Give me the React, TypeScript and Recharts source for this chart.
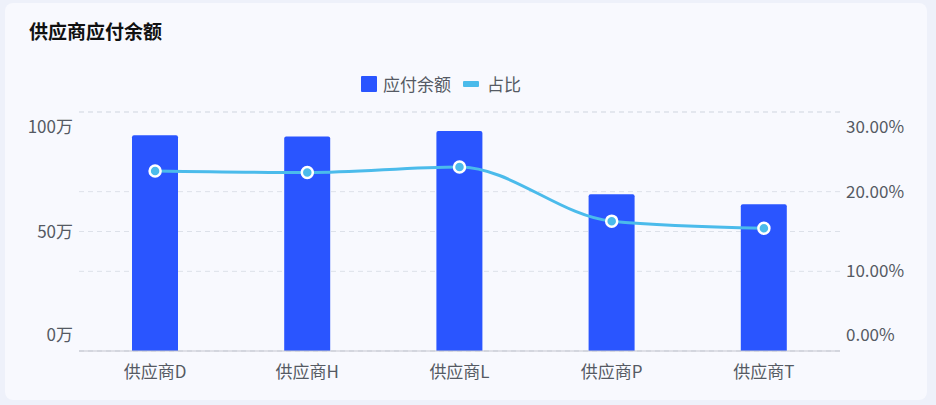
import { ComposedChart, Bar, Line, XAxis, YAxis, CartesianGrid } from 'recharts';

const categories = ['供应商D', '供应商H', '供应商L', '供应商P', '供应商T'];
// 应付余额, unit: 万
const payable = [90.3, 89.7, 92.1, 65.6, 61.4];
// 占比, unit: %
const share = [22.6, 22.4, 23.1, 16.3, 15.4];
const leftTicks = [0, 50, 100];
const rightTicks = [0, 10, 20, 30];

const FONT = '"Noto Sans CJK SC", "Noto Sans", sans-serif';
const BAR_COLOR = '#2a55ff';
const LINE_COLOR = '#4bbbeb';
const TEXT_COLOR = '#555a63';

const chartData = categories.map((name, i) => ({
  name,
  payable: payable[i],
  share: share[i],
}));

// first and last labels are pulled inside the plot, like the source chart
const SideTick = ({ x, y, payload, side, max }: any) => {
  let dy = 6;
  if (payload.value === max) dy = 21;
  if (payload.value === 0) dy = -10;
  const label = side === 'left' ? `${payload.value}万` : `${Number(payload.value).toFixed(2)}%`;
  return (
    <text
      x={x}
      y={y + dy}
      textAnchor={side === 'left' ? 'end' : 'start'}
      fill={TEXT_COLOR}
      fontSize={17}
      fontFamily={FONT}
    >
      {label}
    </text>
  );
};

const CategoryTick = ({ x, y, payload }: any) => (
  <text x={x} y={y + 21} textAnchor="middle" fill={TEXT_COLOR} fontSize={17} fontFamily={FONT}>
    {payload.value}
  </text>
);

export default function App() {
  return (
    <div style={{ position: 'fixed', inset: 0, background: '#eef1fa', fontFamily: FONT }}>
      <div
        style={{
          position: 'absolute',
          left: 5,
          top: 3,
          width: 922,
          height: 397,
          borderRadius: 8,
          background: '#f8f9fe',
        }}
      />
      <div
        style={{
          position: 'absolute',
          left: 29,
          top: 18,
          fontSize: 19,
          fontWeight: 700,
          color: '#111',
          lineHeight: '26px',
        }}
      >
        供应商应付余额
      </div>

      {/* legend */}
      <div
        style={{
          position: 'absolute',
          left: 361,
          top: 73,
          display: 'flex',
          alignItems: 'center',
          fontSize: 17,
          color: TEXT_COLOR,
          lineHeight: '22px',
        }}
      >
        <span style={{ width: 16, height: 16, background: BAR_COLOR, borderRadius: 1, marginRight: 6 }} />
        <span>应付余额</span>
        <span style={{ width: 16, height: 6, background: LINE_COLOR, borderRadius: 1, marginLeft: 12, marginRight: 8 }} />
        <span>占比</span>
      </div>

      <div style={{ position: 'absolute', left: 0, top: 0 }}>
        <ComposedChart
          width={936}
          height={405}
          data={chartData}
          margin={{ top: 112, right: 16, bottom: 24, left: 19 }}
        >
          <CartesianGrid yAxisId="left" vertical={false} stroke="#dde1e9" strokeDasharray="5 4" />
          <CartesianGrid yAxisId="right" vertical={false} stroke="#dde1e9" strokeDasharray="5 4" />
          <XAxis
            dataKey="name"
            height={30}
            axisLine={{ stroke: '#c3c6cd', strokeWidth: 1.2 }}
            tickLine={false}
            tick={<CategoryTick />}
            tickSize={0}
            tickMargin={6}
          />
          <YAxis
            yAxisId="left"
            width={60}
            domain={[0, 100]}
            ticks={leftTicks}
            axisLine={false}
            tickLine={false}
            tickSize={0}
            tickMargin={6}
            tick={<SideTick side="left" max={100} />}
          />
          <YAxis
            yAxisId="right"
            orientation="right"
            width={80}
            domain={[0, 30]}
            ticks={rightTicks}
            axisLine={false}
            tickLine={false}
            tickSize={0}
            tickMargin={6}
            tick={<SideTick side="right" max={30} />}
          />
          <Bar
            yAxisId="left"
            dataKey="payable"
            fill={BAR_COLOR}
            barSize={46}
            radius={[2, 2, 0, 0]}
            isAnimationActive={false}
          />
          <Line
            yAxisId="right"
            type="monotone"
            dataKey="share"
            stroke={LINE_COLOR}
            strokeWidth={3}
            dot={{ r: 5.5, fill: LINE_COLOR, stroke: '#fff', strokeWidth: 2.5 }}
            activeDot={false}
            isAnimationActive={false}
          />
        </ComposedChart>
      </div>
    </div>
  );
}
